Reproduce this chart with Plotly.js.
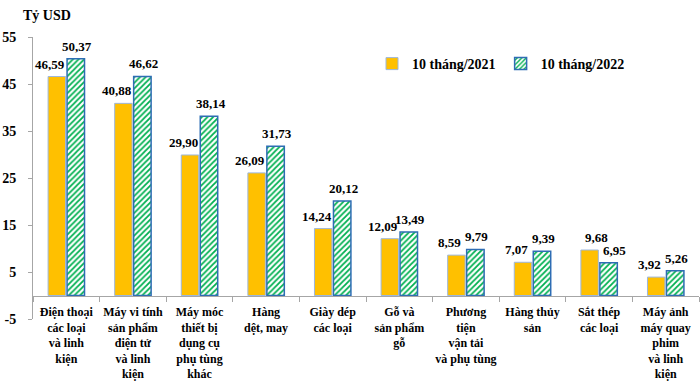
<!DOCTYPE html>
<html>
<head>
<meta charset="utf-8">
<script src="https://cdn.plot.ly/plotly-3.0.1.min.js"></script>
<style>html,body{margin:0;padding:0;background:#fff;}#chart{width:700px;height:385px;}</style>
</head>
<body>
<div id="chart"></div>
<script>
const categories = [
  "Điện thoại<br>các loại<br>và linh<br>kiện",
  "Máy vi tính<br>sản phẩm<br>điện tử<br>và linh<br>kiện",
  "Máy móc<br>thiết bị<br>dụng cụ<br>phụ tùng<br>khác",
  "Hàng<br>dệt, may",
  "Giày dép<br>các loại",
  "Gỗ và<br>sản phẩm<br>gỗ",
  "Phương<br>tiện<br>vận tải<br>và phụ tùng",
  "Hàng thủy<br>sản",
  "Sắt thép<br>các loại",
  "Máy ảnh<br>máy quay<br>phim<br>và linh<br>kiện"
];
const values2021 = [46.59, 40.88, 29.90, 26.09, 14.24, 12.09, 8.59, 7.07, 9.68, 3.92];
const values2022 = [50.37, 46.62, 38.14, 31.73, 20.12, 13.49, 9.79, 9.39, 6.95, 5.26];
const seriesNames = ["10 tháng/2021", "10 tháng/2022"];
const yTicks = [-5, 5, 15, 25, 35, 45, 55];
const unitLabel = "Tỷ USD";

const FONT = "Liberation Serif, Times New Roman, serif";
const fmt = v => v.toFixed(2).replace('.', ',');

const trace1 = {
  type: 'bar', name: seriesNames[0], x: categories, y: values2021,
  marker: {color: '#FFC000', line: {color: '#9DB7DC', width: 1}},
  hoverinfo: 'none'
};
const trace2 = {
  type: 'bar', name: seriesNames[1], x: categories, y: values2022,
  marker: {color: '#FFFFFF', line: {color: '#2E6DB4', width: 1.5},
    pattern: {shape: '/', fgcolor: '#00B050', bgcolor: '#FFFFFF', size: 4, solidity: 0.45}},
  hoverinfo: 'none'
};

const W = 700, H = 385, mL = 33, mR = 1, mT = 37, mB = 66;
const pw = W - mL - mR, ph = H - mT - mB;

const annotations = [];
categories.forEach((c, i) => {
  const a = values2021[i], b = values2022[i];
  annotations.push({x: c, y: a, xref: 'x', yref: 'y', text: fmt(a), showarrow: false,
    yanchor: 'bottom', xshift: a < b ? -16 : -3, yshift: 3,
    font: {family: FONT, size: 13, weight: 'bold', color: '#000'}});
  annotations.push({x: c, y: b, xref: 'x', yref: 'y', text: fmt(b), showarrow: false,
    yanchor: 'bottom', xshift: b < a ? 15 : 11, yshift: 3,
    font: {family: FONT, size: 13, weight: 'bold', color: '#000'}});
});
annotations.push({x: (21 - mL) / pw, y: (H - mB - 16) / ph, xref: 'paper', yref: 'paper', text: unitLabel,
  showarrow: false, xanchor: 'left', yanchor: 'middle',
  font: {family: FONT, size: 14, weight: 'bold', color: '#000'}});

const layout = {
  width: W, height: H,
  margin: {l: mL, r: mR, t: mT, b: mB, pad: 0},
  paper_bgcolor: '#fff', plot_bgcolor: '#fff',
  barmode: 'group', bargap: 0.43, bargroupgap: 0.08,
  font: {family: FONT, size: 13, color: '#000'},
  showlegend: true,
  legend: {orientation: 'h', x: (372 - mL) / pw, y: (H - mB - 64) / ph, xanchor: 'left', yanchor: 'middle',
    font: {family: FONT, size: 14, weight: 'bold', color: '#000'}, itemwidth: 30, bgcolor: 'rgba(0,0,0,0)'},
  xaxis: {
    anchor: 'free', position: 5 / 60,
    showline: true, linecolor: '#A6A6A6', linewidth: 1,
    ticks: 'outside', tickson: 'boundaries', ticklen: 5, tickcolor: '#A6A6A6',
    tickangle: 0,
    tickfont: {family: FONT, size: 12, weight: 'bold', color: '#000'},
    ticklabelstandoff: 5,
    showgrid: false, zeroline: false, fixedrange: true
  },
  yaxis: {
    range: [-5, 55], tickvals: yTicks, ticktext: yTicks.map(String),
    showline: true, linecolor: '#A6A6A6', linewidth: 1,
    ticks: 'outside', ticklen: 4, tickcolor: '#A6A6A6',
    tickfont: {family: FONT, size: 14, weight: 'bold', color: '#000'},
    ticklabelstandoff: 9,
    showgrid: false, zeroline: false, fixedrange: true
  },
  annotations: annotations
};

Plotly.newPlot('chart', [trace1, trace2], layout, {displayModeBar: false, staticPlot: true});
</script>
</body>
</html>
